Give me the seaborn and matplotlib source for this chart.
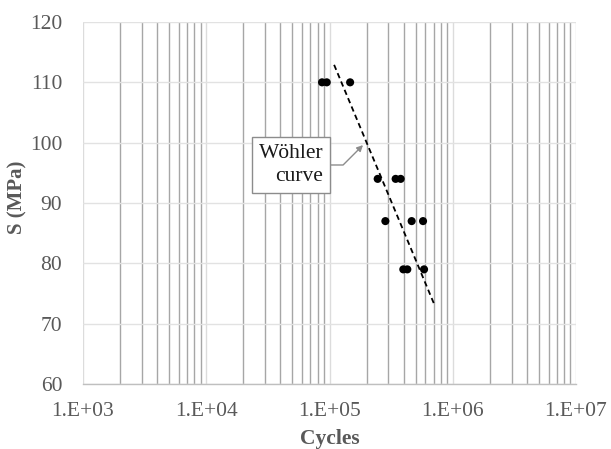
import numpy as np
import pandas as pd
import matplotlib
matplotlib.use("Agg")
import matplotlib.pyplot as plt
import seaborn as sns

# Data
cycles = [87000, 95000, 147000, 246000, 344000, 378000, 284000, 464000, 574000, 397000, 428000, 585000]
stress = [110, 110, 110, 94, 94, 94, 87, 87, 87, 79, 79, 79]
curve_cycles = [109000, 718000]
curve_stress = [112.9, 72.9]
xtick_vals = [1e3, 1e4, 1e5, 1e6, 1e7]
xtick_labels = ["1.E+03", "1.E+04", "1.E+05", "1.E+06", "1.E+07"]
ytick_vals = [60, 70, 80, 90, 100, 110, 120]

sns.set_theme(style="white")
plt.rcParams['font.family'] = ['Liberation Serif', 'DejaVu Serif']

fig = plt.figure(figsize=(6.11, 4.49), dpi=100)
ax = fig.add_axes([83/611, 1-384/449, (576-83)/611, (384-22)/449])

df = pd.DataFrame({"Cycles": cycles, "S": stress})
dfc = pd.DataFrame({"Cycles": curve_cycles, "S": curve_stress})

ax.set_xscale("log")
ax.set_xlim(1e3, 1e7)
ax.set_ylim(60, 120)

# grid lines
minor = [m * 10**d for d in range(3, 7) for m in range(2, 10)]
for v in minor:
    ax.axvline(v, color="#a6a6a6", lw=1.0, zorder=0)
for v in xtick_vals:
    ax.axvline(v, color="#dcdcdc", lw=1.0, zorder=0)
for v in ytick_vals:
    ax.axhline(v, color="#e2e2e2", lw=1.0, zorder=0)

sns.lineplot(data=dfc, x="Cycles", y="S", ax=ax, color="black", lw=1.3,
             linestyle=(0, (3, 2)), zorder=3)
sns.scatterplot(data=df, x="Cycles", y="S", ax=ax, color="black", s=34,
                edgecolor="none", zorder=4)

ax.set_xticks(xtick_vals)
ax.set_xticklabels(xtick_labels)
ax.set_xticks([], minor=True)
ax.set_yticks(ytick_vals)
ax.tick_params(axis="both", length=0, labelsize=15.5, labelcolor="#595959")
ax.tick_params(axis="y", pad=15)
ax.tick_params(axis="x", pad=13)

for s in ["top", "right", "left"]:
    ax.spines[s].set_visible(False)
ax.spines["bottom"].set_color("#bfbfbf")
ax.spines["bottom"].set_linewidth(1.0)

ax.set_xlabel("Cycles", fontsize=15.5, fontweight="bold", color="#595959", labelpad=6)
ax.set_ylabel("S (MPa)", fontsize=15, fontweight="bold", color="#595959", labelpad=1)
ax.yaxis.set_label_coords(-0.112, 0.517)

ax.annotate("Wöhler\ncurve", xy=(1.87e5, 99.6), xytext=(8.9e4, 96.3),
            ha="right", va="center", multialignment="right", fontsize=15.5, color="#1a1a1a",
            linespacing=1.3,
            bbox=dict(boxstyle="square,pad=0.32", fc="white", ec="#8c8c8c", lw=1.0),
            arrowprops=dict(arrowstyle="-|>", color="#8c8c8c", lw=1.0,
                            connectionstyle="angle,angleA=0,angleB=45,rad=0",
                            mutation_scale=9, shrinkA=0, shrinkB=0),
            zorder=5)

fig.savefig("out.png", dpi=100, facecolor="white")
